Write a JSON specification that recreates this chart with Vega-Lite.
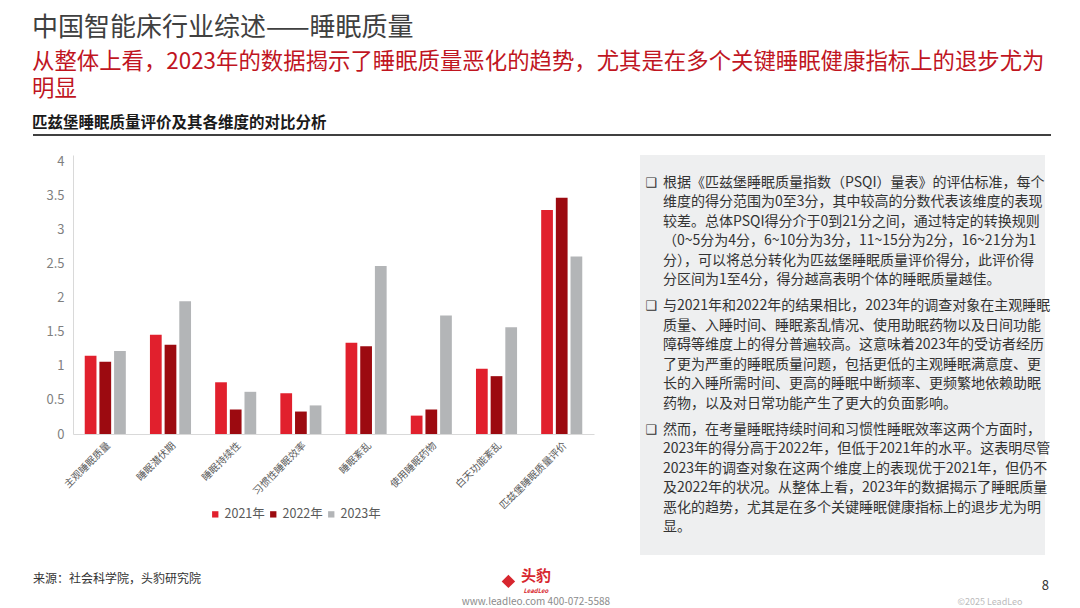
{
  "$schema": "https://vega.github.io/schema/vega-lite/v6.json",
  "background": "white",
  "padding": {"left": 32, "top": 15, "right": 30, "bottom": 0},
  "bounds": "flush",
  "config": {
    "font": "Noto Sans CJK SC",
    "view": {"stroke": null}
  },
  "title": {
    "text": "中国智能床行业综述——睡眠质量",
    "subtitle": [
      "从整体上看，2023年的数据揭示了睡眠质量恶化的趋势，尤其是在多个关键睡眠健康指标上的退步尤为",
      "明显"
    ],
    "anchor": "start",
    "frame": "bounds",
    "fontSize": 26,
    "fontWeight": "normal",
    "color": "#404040",
    "subtitleFontSize": 22.4,
    "subtitleColor": "#C0151F",
    "subtitleLineHeight": 27,
    "subtitlePadding": 10,
    "offset": 15
  },
  "columns": 2,
  "spacing": {"row": 12, "column": 46},
  "resolve": {"legend": {"color": "independent"}},
  "concat": [
    {
      "width": 561,
      "height": 8,
      "title": {
        "text": "匹兹堡睡眠质量评价及其各维度的对比分析",
        "anchor": "start",
        "fontSize": 15.5,
        "fontWeight": "bold",
        "color": "#1A1A1A",
        "offset": 3
      },
      "data": {"values": [{"from": 0, "to": 1, "level": 1}]},
      "mark": {"type": "rule", "strokeWidth": 2, "color": "#404040"},
      "encoding": {
        "x": {"field": "from", "type": "quantitative", "scale": {"domain": [0, 1], "range": [0, 1018]}, "axis": null},
        "x2": {"field": "to"},
        "y": {"field": "level", "type": "quantitative", "scale": {"domain": [0, 1]}, "axis": null}
      }
    },
    {
      "width": 405,
      "height": 8,
      "data": {"values": []},
      "mark": {"type": "point", "opacity": 0},
      "encoding": {}
    },
    {
      "width": 561,
      "height": 279,
      "data": {
        "values": [
          {"dimension": "主观睡眠质量", "year": "2021年", "score": 1.15},
          {"dimension": "主观睡眠质量", "year": "2022年", "score": 1.06},
          {"dimension": "主观睡眠质量", "year": "2023年", "score": 1.22},
          {"dimension": "睡眠潜伏期", "year": "2021年", "score": 1.46},
          {"dimension": "睡眠潜伏期", "year": "2022年", "score": 1.31},
          {"dimension": "睡眠潜伏期", "year": "2023年", "score": 1.95},
          {"dimension": "睡眠持续性", "year": "2021年", "score": 0.76},
          {"dimension": "睡眠持续性", "year": "2022年", "score": 0.36},
          {"dimension": "睡眠持续性", "year": "2023年", "score": 0.62},
          {"dimension": "习惯性睡眠效率", "year": "2021年", "score": 0.6},
          {"dimension": "习惯性睡眠效率", "year": "2022年", "score": 0.33},
          {"dimension": "习惯性睡眠效率", "year": "2023年", "score": 0.42},
          {"dimension": "睡眠紊乱", "year": "2021年", "score": 1.34},
          {"dimension": "睡眠紊乱", "year": "2022年", "score": 1.29},
          {"dimension": "睡眠紊乱", "year": "2023年", "score": 2.47},
          {"dimension": "使用睡眠药物", "year": "2021年", "score": 0.27},
          {"dimension": "使用睡眠药物", "year": "2022年", "score": 0.36},
          {"dimension": "使用睡眠药物", "year": "2023年", "score": 1.74},
          {"dimension": "白天功能紊乱", "year": "2021年", "score": 0.96},
          {"dimension": "白天功能紊乱", "year": "2022年", "score": 0.85},
          {"dimension": "白天功能紊乱", "year": "2023年", "score": 1.57},
          {"dimension": "匹兹堡睡眠质量评价", "year": "2021年", "score": 3.29},
          {"dimension": "匹兹堡睡眠质量评价", "year": "2022年", "score": 3.47},
          {"dimension": "匹兹堡睡眠质量评价", "year": "2023年", "score": 2.61}
        ]
      },
      "mark": {"type": "bar"},
      "encoding": {
        "x": {
          "field": "dimension",
          "type": "nominal",
          "sort": null,
          "scale": {"range": [40, 561], "paddingInner": 0.37, "paddingOuter": 0.18},
          "axis": {
            "title": null,
            "labelAngle": -45,
            "labelFontSize": 10,
            "labelColor": "#595959",
            "labelPadding": 6,
            "ticks": false,
            "domainColor": "#D9D9D9"
          }
        },
        "xOffset": {"field": "year", "type": "nominal", "scale": {"paddingInner": 0.2, "paddingOuter": 0}},
        "y": {
          "field": "score",
          "type": "quantitative",
          "scale": {"domain": [0, 4.1], "nice": false},
          "axis": {
            "title": null,
            "offset": -40,
            "values": [0, 0.5, 1, 1.5, 2, 2.5, 3, 3.5, 4],
            "format": "~g",
            "grid": false,
            "ticks": false,
            "domainColor": "#D9D9D9",
            "labelColor": "#7F7F7F",
            "labelFontSize": 13,
            "labelPadding": 9
          }
        },
        "color": {
          "field": "year",
          "type": "nominal",
          "scale": {
            "domain": ["2021年", "2022年", "2023年"],
            "range": ["#E1202D", "#9C0A10", "#B3B5B7"]
          },
          "legend": {
            "title": null,
            "orient": "none",
            "legendX": 176,
            "legendY": 353,
            "direction": "horizontal",
            "symbolType": "square",
            "symbolSize": 40,
            "labelFontSize": 12.5,
            "labelColor": "#595959",
            "labelOffset": 3,
            "columnPadding": 2
          }
        }
      }
    },
    {
      "width": 405,
      "height": 400,
      "view": {"fill": "#EEEFF0", "stroke": null},
      "data": {
        "values": [
          {"para": 1, "line": 1, "text": "根据《匹兹堡睡眠质量指数（PSQI）量表》的评估标准，每个"},
          {"para": 1, "line": 2, "text": "维度的得分范围为0至3分，其中较高的分数代表该维度的表现"},
          {"para": 1, "line": 3, "text": "较差。总体PSQI得分介于0到21分之间，通过特定的转换规则"},
          {"para": 1, "line": 4, "text": "（0~5分为4分，6~10分为3分，11~15分为2分，16~21分为1"},
          {"para": 1, "line": 5, "text": "分），可以将总分转化为匹兹堡睡眠质量评价得分，此评价得"},
          {"para": 1, "line": 6, "text": "分区间为1至4分，得分越高表明个体的睡眠质量越佳。"},
          {"para": 2, "line": 1, "text": "与2021年和2022年的结果相比，2023年的调查对象在主观睡眠"},
          {"para": 2, "line": 2, "text": "质量、入睡时间、睡眠紊乱情况、使用助眠药物以及日间功能"},
          {"para": 2, "line": 3, "text": "障碍等维度上的得分普遍较高。这意味着2023年的受访者经历"},
          {"para": 2, "line": 4, "text": "了更为严重的睡眠质量问题，包括更低的主观睡眠满意度、更"},
          {"para": 2, "line": 5, "text": "长的入睡所需时间、更高的睡眠中断频率、更频繁地依赖助眠"},
          {"para": 2, "line": 6, "text": "药物，以及对日常功能产生了更大的负面影响。"},
          {"para": 3, "line": 1, "text": "然而，在考量睡眠持续时间和习惯性睡眠效率这两个方面时，"},
          {"para": 3, "line": 2, "text": "2023年的得分高于2022年，但低于2021年的水平。这表明尽管"},
          {"para": 3, "line": 3, "text": "2023年的调查对象在这两个维度上的表现优于2021年，但仍不"},
          {"para": 3, "line": 4, "text": "及2022年的状况。从整体上看，2023年的数据揭示了睡眠质量"},
          {"para": 3, "line": 5, "text": "恶化的趋势，尤其是在多个关键睡眠健康指标上的退步尤为明"},
          {"para": 3, "line": 6, "text": "显。"}
        ]
      },
      "encoding": {
        "x": {"datum": 0, "type": "quantitative", "scale": {"domain": [0, 1]}, "axis": null},
        "y": {"field": "para", "type": "ordinal", "axis": null, "scale": {"type": "band", "paddingInner": 0.053, "paddingOuter": 0.146}},
        "yOffset": {"field": "line", "type": "ordinal", "scale": {"type": "band", "paddingInner": 0, "paddingOuter": 0}}
      },
      "layer": [
        {
          "mark": {"type": "text", "align": "left", "baseline": "middle", "dx": 23, "fontSize": 14, "color": "#333333"},
          "encoding": {"text": {"field": "text"}}
        },
        {
          "transform": [{"filter": "datum.line == 1"}],
          "mark": {"type": "text", "align": "center", "baseline": "middle", "dx": 11, "fontSize": 13, "font": "DejaVu Sans", "color": "#333333"},
          "encoding": {"text": {"value": "❑"}}
        }
      ]
    },
    {
      "width": 561,
      "height": 40,
      "data": {
        "values": [
          {
            "source": "来源：社会科学院，头豹研究院",
            "brand": "头豹",
            "brandEn": "LeadLeo",
            "contact": "www.leadleo.com     400-072-5588",
            "page": "8",
            "copyright": "©2025 LeadLeo"
          }
        ]
      },
      "layer": [
        {
          "mark": {"type": "text", "align": "left", "baseline": "middle", "fontSize": 12, "color": "#333333"},
          "encoding": {
            "x": {"datum": 0, "type": "quantitative", "scale": {"domain": [0, 1], "range": [0, 1018]}, "axis": null},
            "y": {"datum": 0.7, "type": "quantitative", "scale": {"domain": [0, 1]}, "axis": null},
            "text": {"field": "source"}
          }
        },
        {
          "mark": {"type": "text", "align": "center", "baseline": "middle", "fontSize": 15, "fontWeight": "bold", "color": "#D7262E"},
          "encoding": {
            "x": {"datum": 0.494, "type": "quantitative"},
            "y": {"datum": 0.77, "type": "quantitative"},
            "text": {"field": "brand"}
          }
        },
        {
          "mark": {"type": "text", "align": "center", "baseline": "middle", "fontSize": 6, "fontStyle": "italic", "fontWeight": "bold", "color": "#D7262E"},
          "encoding": {
            "x": {"datum": 0.494, "type": "quantitative"},
            "y": {"datum": 0.4, "type": "quantitative"},
            "text": {"field": "brandEn"}
          }
        },
        {
          "mark": {"type": "point", "shape": "diamond", "filled": true, "size": 180, "color": "#D7262E", "opacity": 1},
          "encoding": {
            "x": {"datum": 0.467, "type": "quantitative"},
            "y": {"datum": 0.64, "type": "quantitative"}
          }
        },
        {
          "mark": {"type": "text", "align": "center", "baseline": "middle", "fontSize": 10, "color": "#8C8C8C"},
          "encoding": {
            "x": {"datum": 0.494, "type": "quantitative"},
            "y": {"datum": 0.12, "type": "quantitative"},
            "text": {"field": "contact"}
          }
        },
        {
          "mark": {"type": "text", "align": "right", "baseline": "middle", "fontSize": 13, "color": "#333333"},
          "encoding": {
            "x": {"datum": 0.998, "type": "quantitative"},
            "y": {"datum": 0.52, "type": "quantitative"},
            "text": {"field": "page"}
          }
        },
        {
          "mark": {"type": "text", "align": "right", "baseline": "middle", "fontSize": 9, "color": "#BBBBBB"},
          "encoding": {
            "x": {"datum": 0.972, "type": "quantitative"},
            "y": {"datum": 0.12, "type": "quantitative"},
            "text": {"field": "copyright"}
          }
        }
      ]
    },
    {
      "width": 405,
      "height": 40,
      "data": {"values": []},
      "mark": {"type": "point", "opacity": 0},
      "encoding": {}
    }
  ]
}
